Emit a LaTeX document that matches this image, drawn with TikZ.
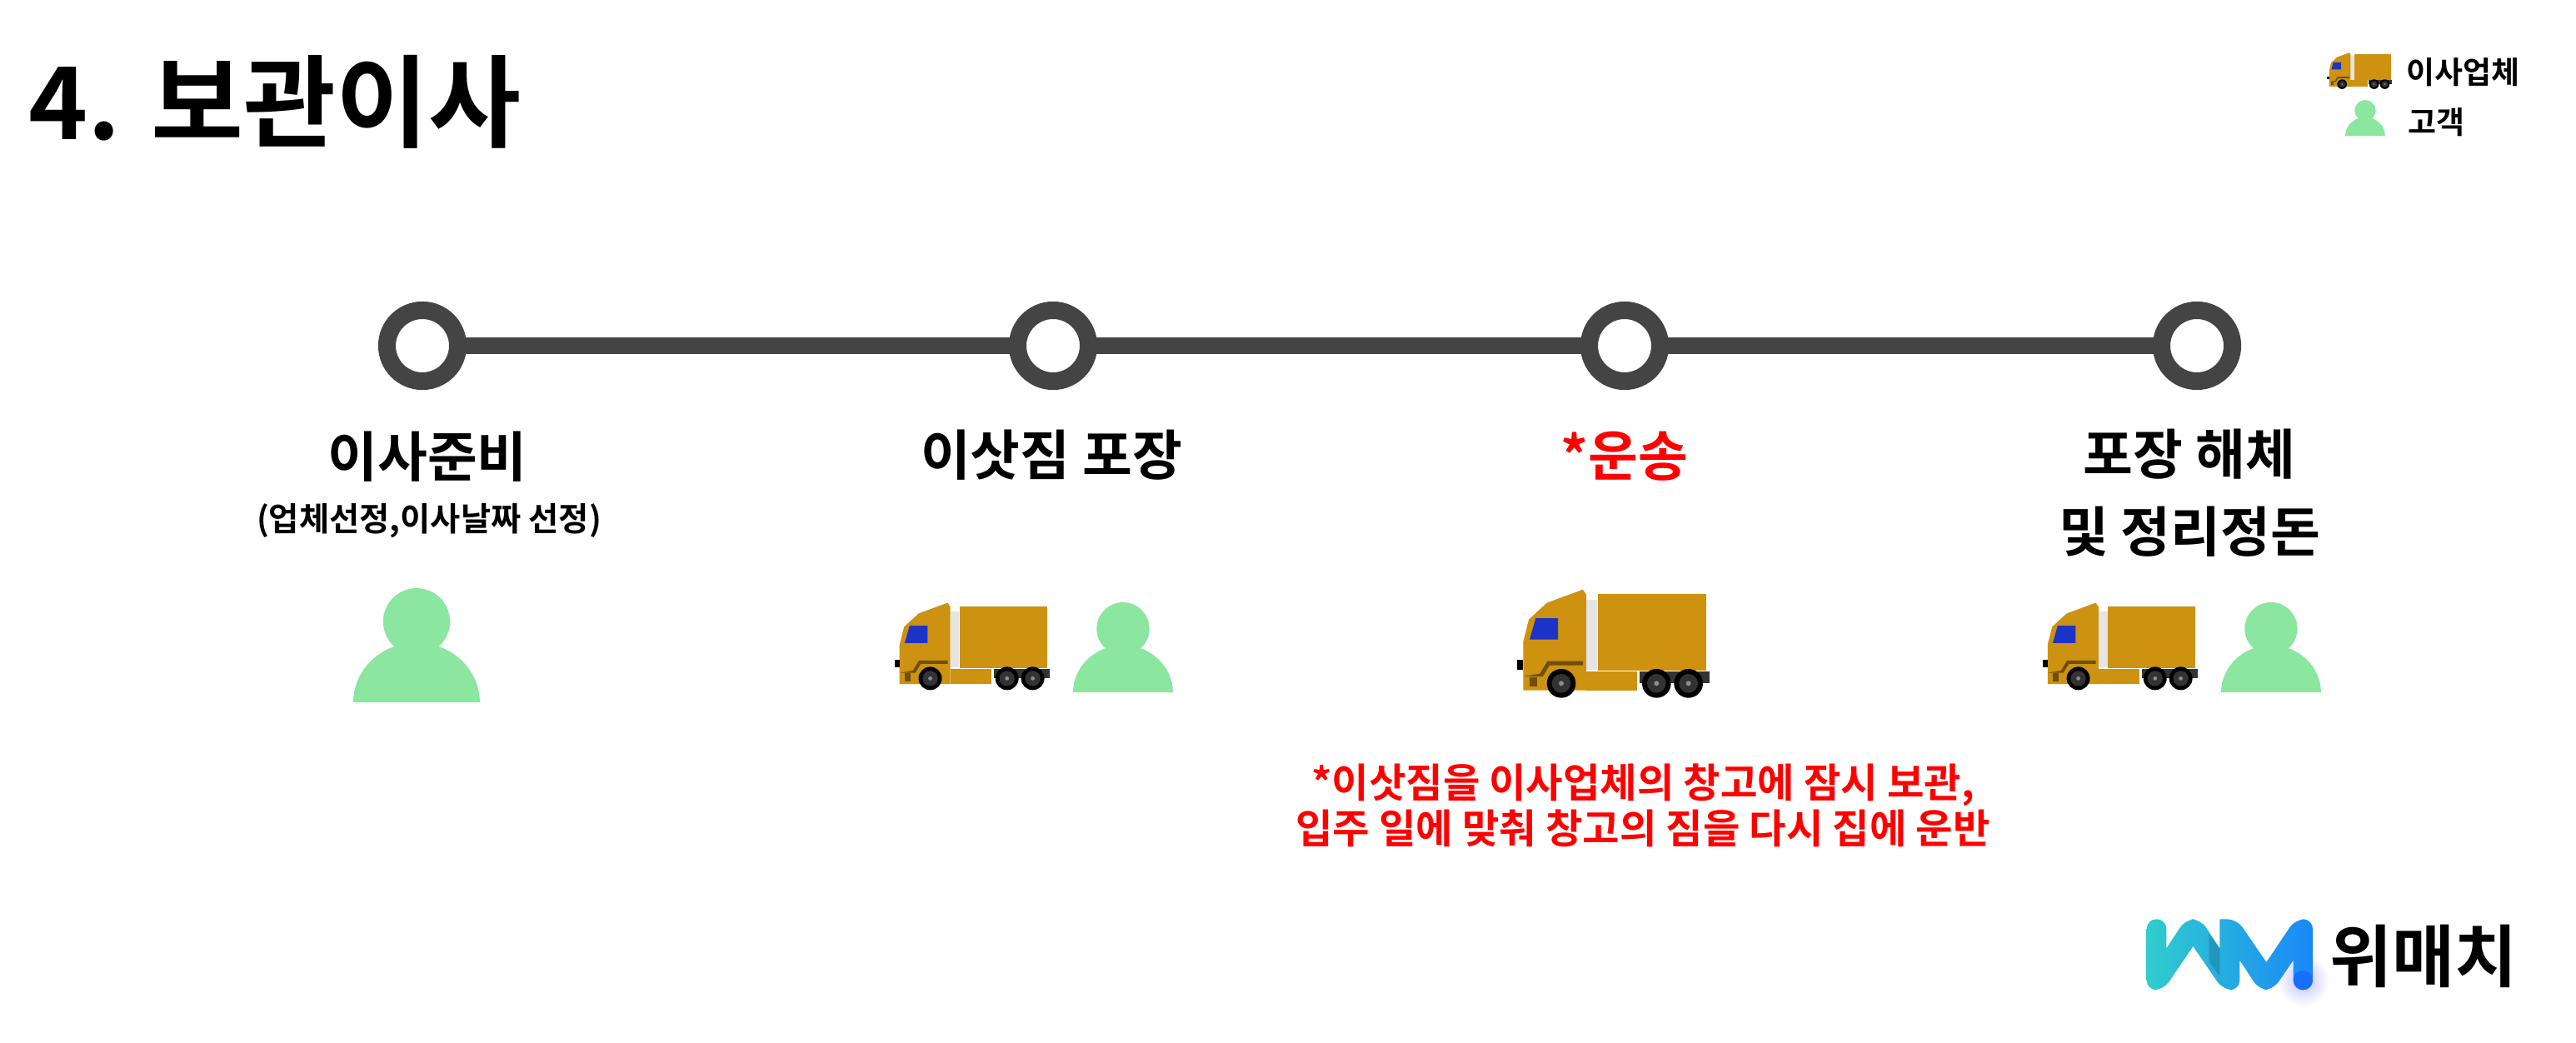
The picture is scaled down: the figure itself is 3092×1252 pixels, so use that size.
\documentclass[tikz,border=0pt]{standalone}
\usepackage{fontspec}
\setmainfont{Noto Sans CJK KR}[BoldFont=Noto Sans CJK KR Bold]
\definecolor{truckgold}{HTML}{CC9210}
\definecolor{truckdark}{HTML}{6E4F08}
\definecolor{truckglass}{HTML}{1D33C8}
\definecolor{personfill}{HTML}{8BE6A0}
\definecolor{railgray}{HTML}{444444}
\definecolor{logodot}{HTML}{1670F8}
\tikzset{
    stationdot/.style = {circle, draw = railgray, line width = 6pt, fill = white, minimum size = 24.2pt, inner sep = 0pt, outer sep = 0pt},
    stepname/.style = {font = \bfseries\fontsize{18.5}{26.5}\selectfont, align = center, inner sep = 0pt},
    stepnote/.style = {font = \bfseries\fontsize{13.75}{15.6}\selectfont, align = center, inner sep = 0pt, text = red},
    pics/truck/.style = {code = {
        \begin{scope}[shift = {(-120,-80)}]
            \fill[black!10!white] (372,120) rectangle (412,372);
            \fill[truckgold] (415,98) rectangle (805,375);
            \fill[truckgold] (372,378) rectangle (555,445);
            \fill[truckgold] (145,445) -- (145,270) -- (165,190) -- (230,130) -- (360,82) -- (372,100) -- (372,445) -- cycle;
            \fill[truckglass] (168,262) -- (190,185) -- (270,185) -- (270,262) -- cycle;
            \fill[truckdark] (145,395) -- (205,385) -- (232,340) -- (360,340) -- (360,355) -- (240,355) -- (215,395) -- (145,395) -- cycle;
            \fill[truckdark] (168,397) rectangle (195,432);
            \fill[black] (122,335) rectangle (145,370);
            \fill[black!80!white] (565,378) rectangle (815,420);
            \foreach \wheelx in {282, 625, 740} {
                \fill[black] (\wheelx,420) circle (52);
                \fill[black!80!white] (\wheelx,420) circle (34);
                \fill[black!45!white] (\wheelx,420) circle (9);
            }
        \end{scope}
    }},
    pics/person/.style = {code = {
        \fill[personfill] (180,95) circle (95);
        \fill[personfill] (0,325) arc[start angle = 180, end angle = 360, x radius = 180, y radius = 170] -- cycle;
    }}
}
\begin{document}
\begin{tikzpicture}[x = 0.01cm, y = -0.01cm]
    \useasboundingbox (0,0) rectangle (3092,1252);
    \node[font = \bfseries\fontsize{34.3}{34.3}\selectfont, anchor = west, inner sep = 0pt] (heading) at (34,122) {4. 보관이사};

    % legend
    \pic (legendtruck) [scale = 0.112] at (2793,63) {truck};
    \pic (legendperson) [scale = 0.133] at (2815,120) {person};
    \node[font = \bfseries\fontsize{10.5}{12}\selectfont, anchor = west, inner sep = 0pt] (legendmover) at (2888,87) {이사업체};
    \node[font = \bfseries\fontsize{10.5}{12}\selectfont, anchor = west, inner sep = 0pt] (legendclient) at (2890,147) {고객};

    % stations
    \node[stationdot] (prepare) at (507,415) {};
    \node[stationdot] (packing) at (1264,415) {};
    \node[stationdot] (moving) at (1950,415) {};
    \node[stationdot] (unpacking) at (2637,415) {};
    \draw[railgray, line width = 5.8pt] (prepare) -- (packing) -- (moving) -- (unpacking);

    \node[stepname] (preparetext) at (513,548) {이사준비};
    \node[font = \bfseries\fontsize{11.2}{12}\selectfont, inner sep = 0pt] (preparenote) at (515,625) {(업체선정,이사날짜 선정)};
    \node[stepname] (packingtext) at (1262,546) {이삿짐 포장};
    \node[stepname, text = red] (movingtext) at (1950,548) {*운송};
    \node[stepname] (unpackingtext) at (2628,592) {포장 해체\\및 정리정돈};
    \node[stepnote] (movingnote) at (1972,967) {*이삿짐을 이사업체의 창고에 잠시 보관,\\입주 일에 맞춰 창고의 짐을 다시 집에 운반};

    % who does what
    \pic (preparepic) [scale = 0.422] at (424,706) {person};
    \pic (packingtruck) [scale = 0.2687] at (1073,723) {truck};
    \pic (packingpic) [scale = 0.333] at (1288,723) {person};
    \pic (movingtruck) [scale = 0.3333] at (1820,707) {truck};
    \pic (unpackingtruck) [scale = 0.2687] at (2451,723) {truck};
    \pic (unpackingpic) [scale = 0.333] at (2666,723) {person};

    % logo
    \begin{scope}[shift = {(2540,1060)}, scale = 0.3333]
        \shade[inner color = blue!25!white, outer color = white] (673,350) circle (95);
        \shade[left color = {rgb,255:red,48;green,205;blue,205}, right color = {rgb,255:red,26;green,136;blue,248}, rounded corners = 3.3pt] (110,130) -- (181,130) [sharp corners] -- (181,235) [rounded corners = 3.3pt] -- (250,130) -- (304,130) [sharp corners] -- (373,235) -- (373,130) [rounded corners = 3.3pt] -- (435,130) [sharp corners] -- (541,285) [rounded corners = 3.3pt] -- (645,130) -- (708,130) -- (708,385) -- (638,385) [sharp corners] -- (638,278) [rounded corners = 3.3pt] -- (565,385) -- (515,385) [sharp corners] -- (445,278) [rounded corners = 3.3pt] -- (445,385) -- (385,385) [sharp corners] -- (277,228) [rounded corners = 3.3pt] -- (170,385) -- (110,385) -- cycle;
        \fill[black, opacity = 0.15] (373,235) -- (373,335) -- (335,285) -- (335,185) -- cycle;
        \fill[logodot] (673,350) circle (35);
    \end{scope}
    \node[font = \bfseries\fontsize{23.2}{23.2}\selectfont, anchor = west, inner sep = 0pt] (logotext) at (2796,1148) {위매치};
\end{tikzpicture}
\end{document}
